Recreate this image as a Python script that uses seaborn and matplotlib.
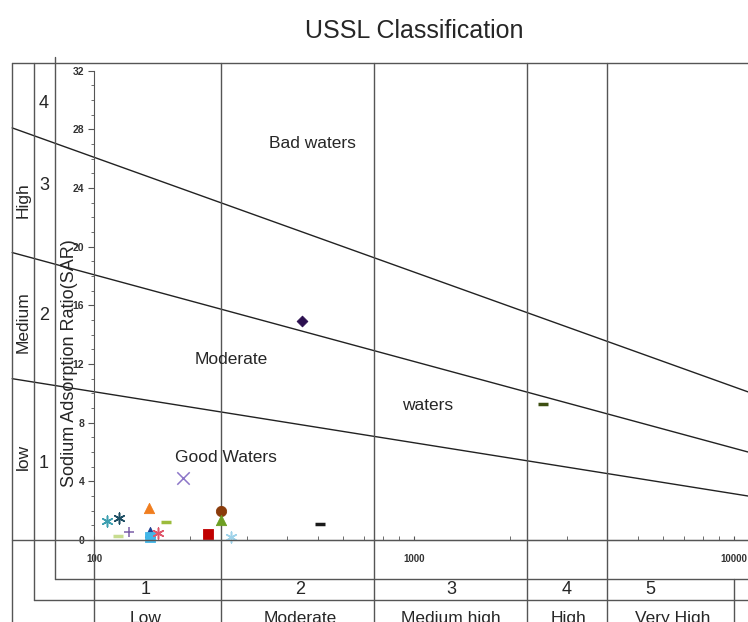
import numpy as np
import pandas as pd
import matplotlib
matplotlib.use('Agg')
import matplotlib.pyplot as plt
import matplotlib.transforms as mtransforms
from matplotlib.lines import Line2D
from matplotlib.ticker import FixedLocator, LogLocator, NullFormatter, MultipleLocator
import seaborn as sns

# water samples: conductivity (uS/cm) and SAR
EC = [447, 2530, 508, 190, 149, 110, 120, 119, 129, 168, 150, 150, 158, 227, 250, 250, 268]
SAR = [14.9, 9.3, 1.1, 4.2, 2.2, 1.3, 1.5, 0.27, 0.55, 1.23, 0.55, 0.2, 0.48, 0.41, 1.98, 1.36, 0.2]
MARKERS = ['D', '_', '_', 'x', '^', (6, 2, 0), (6, 2, 0), '_', '+', '_', '^', 's',
           (6, 2, 0), 's', 'o', '^', (6, 2, 0)]
COLORS = ['#2b0f4f', '#3d4f12', '#1a1a1a', '#8c76c8', '#f07d1e', '#3d9fb0', '#1d4e63',
          '#c7dc8f', '#7a5ea8', '#9cbc3c', '#1f3f8f', '#42b6e8', '#e0566a', '#c00000',
          '#8a3b0b', '#6d9e23', '#9fd3ea']

# salinity class boundaries (EC) and SAR hazard lines
CLASS_BOUNDS = [250, 750, 2250, 4000]
LINE_EC = [55.5, 11066]
LINE_S4 = [28.1, 10.1]
LINE_S3 = [19.6, 6.0]
LINE_S2 = [11.0, 3.0]

XTICKS = [100, 1000, 10000]
XTICKLABELS = ['100', '1000', '10000']
YTICKS = [0, 4, 8, 12, 16, 20, 24, 28, 32]

SAL_NUM = ['1', '2', '3', '4', '5']
SAL_NAME = ['Low', 'Moderate', 'Medium high', 'High', 'Very High']
SOD_NUM = ['4', '3', '2', '1']
SOD_NAME = ['High', 'Medium', 'low']

sns.set_style('white')
plt.rcParams['font.family'] = ['Liberation Sans', 'DejaVu Sans']

W, H = 748, 622
fig = plt.figure(figsize=(W / 100, H / 100), dpi=100)
ax = fig.add_axes([94 / W, 1 - 540 / H, 654 / W, (540 - 70.7) / H])


def px(x, y):
    return x / W, 1 - y / H


def fline(xs, ys, color='#555555', lw=1.0):
    fig.add_artist(Line2D([x / W for x in xs], [1 - y / H for y in ys], color=color, lw=lw))


LC = '#555555'
# hazard lines
for ys in [LINE_S4, LINE_S3, LINE_S2]:
    sns.lineplot(x=LINE_EC, y=ys, ax=ax, color='#222222', lw=1.0, clip_on=False,
                 estimator=None, sort=False)

# salinity class verticals spanning the whole frame
trans = mtransforms.blended_transform_factory(ax.transData, fig.transFigure)
for b in CLASS_BOUNDS:
    ax.plot([b, b], [1 - 63 / H, 0], color=LC, lw=1.0, transform=trans, clip_on=False)
ax.plot([XTICKS[0], XTICKS[0]], [1 - 540 / H, 0], color=LC, lw=1.0, transform=trans, clip_on=False)
ax.plot([XTICKS[-1], XTICKS[-1]], [1 - 579 / H, 0], color=LC, lw=1.0, transform=trans, clip_on=False)

# frame / table lines
fline([12, W], [63, 63])
fline([12, 12], [63, H])
fline([34, 34], [63, 600])
fline([55, 55], [57, 579])
fline([55, W], [579, 579])
fline([34, W], [600, 600])
fline([12, W], [540, 540])

# samples
for e, s, m, c in zip(EC, SAR, MARKERS, COLORS):
    filled = m in ['D', '^', 's', 'o']
    size = {'D': 30, '^': 55, 's': 55, 'o': 55, 'x': 80, '+': 55, '_': 60}.get(m, 55) if not isinstance(m, tuple) else 60
    lw = 2.5 if m == '_' else (0.6 if filled else 1.1)
    sns.scatterplot(x=[e], y=[s], marker=m, color=c, s=size, linewidth=lw,
                    edgecolor=c, ax=ax, legend=False, zorder=5, clip_on=False)

ax.set_xscale('log')
ax.set_xlim(100, LINE_EC[1])
ax.set_ylim(0, YTICKS[-1])
ax.xaxis.set_major_locator(FixedLocator(XTICKS))
ax.set_xticklabels(XTICKLABELS)
ax.xaxis.set_minor_locator(LogLocator(base=10, subs=np.arange(2, 10)))
ax.xaxis.set_minor_formatter(NullFormatter())
ax.set_yticks(YTICKS)
ax.yaxis.set_minor_locator(MultipleLocator(1))
ax.tick_params(axis='x', which='both', direction='in', length=3, color=LC, pad=10,
               labelsize=7, bottom=True)
ax.tick_params(axis='y', which='major', direction='out', length=4, color=LC, pad=3,
               labelsize=7.5, left=True)
ax.tick_params(axis='y', which='minor', direction='out', length=2, color=LC, left=True)
for lab in ax.get_xticklabels() + ax.get_yticklabels():
    lab.set_fontweight('bold')
    lab.set_color('#333333')
for sp in ['top', 'right']:
    ax.spines[sp].set_visible(False)
ax.spines['left'].set_color(LC)
ax.spines['bottom'].set_color(LC)
ax.set_xlabel('')
ax.set_ylabel('')
ax.patch.set_alpha(0)

# zone text
fs = 12.5
fig.text(*px(312, 143), 'Bad waters', fontsize=fs, ha='center', va='center')
fig.text(*px(231, 359), 'Moderate', fontsize=fs, ha='center', va='center')
fig.text(*px(428, 405), 'waters', fontsize=fs, ha='center', va='center')
fig.text(*px(226, 458), 'Good Waters', fontsize=fs, ha='center', va='center')

fig.text(*px(414, 31), 'USSL Classification', fontsize=18, ha='center', va='center')
fig.text(*px(69, 363), 'Sodium Adsorption Ratio(SAR)', fontsize=13, rotation=90,
         ha='center', va='center')

# sodium hazard side labels
for t, y in zip(SOD_NUM, [103, 185, 315, 463]):
    fig.text(*px(44, y), t, fontsize=13, ha='center', va='center')
for t, y in zip(SOD_NAME, [200, 322, 457]):
    fig.text(*px(23, y), t, fontsize=fs, rotation=90, ha='center', va='center')

# salinity hazard bottom labels
for t, x in zip(SAL_NUM, [146, 300, 451, 567, 650]):
    fig.text(*px(x, 590), t, fontsize=13, ha='center', va='center')
for t, x in zip(SAL_NAME, [146, 300, 451, 569, 673]):
    fig.text(*px(x, 623), t, fontsize=fs, ha='center', va='baseline')

fig.savefig('out.png', dpi=100)
